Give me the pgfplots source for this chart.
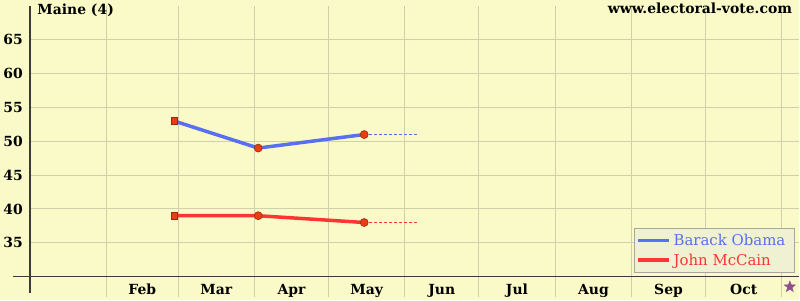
\documentclass[border=0pt]{standalone}
\usepackage{pgfplots}
\pgfplotsset{compat=1.18}
\usepackage{fontspec}
\setmainfont{DejaVu Serif}
\definecolor{bg}{RGB}{250,250,200}
\definecolor{gridc}{RGB}{208,208,172}
\definecolor{axisc}{RGB}{60,60,50}
\definecolor{obama}{RGB}{88,112,240}
\definecolor{mccain}{RGB}{255,52,52}
\definecolor{mk}{RGB}{235,60,20}
\definecolor{mkedge}{RGB}{150,45,10}
\definecolor{starc}{RGB}{140,80,140}
\definecolor{legbg}{RGB}{240,240,210}
\definecolor{legdraw}{RGB}{168,168,150}
\pgfdeclareplotmark{fivestar}{%
  \pgfpathmoveto{\pgfpointpolar{90}{\pgfplotmarksize}}%
  \pgfpathlineto{\pgfpointpolar{126}{0.42\pgfplotmarksize}}%
  \pgfpathlineto{\pgfpointpolar{162}{\pgfplotmarksize}}%
  \pgfpathlineto{\pgfpointpolar{198}{0.42\pgfplotmarksize}}%
  \pgfpathlineto{\pgfpointpolar{234}{\pgfplotmarksize}}%
  \pgfpathlineto{\pgfpointpolar{270}{0.42\pgfplotmarksize}}%
  \pgfpathlineto{\pgfpointpolar{306}{\pgfplotmarksize}}%
  \pgfpathlineto{\pgfpointpolar{342}{0.42\pgfplotmarksize}}%
  \pgfpathlineto{\pgfpointpolar{18}{\pgfplotmarksize}}%
  \pgfpathlineto{\pgfpointpolar{54}{0.42\pgfplotmarksize}}%
  \pgfpathclose
  \pgfusepathqfillstroke}
\begin{document}
\begin{tikzpicture}
\fill[bg] (0bp,0bp) rectangle (800bp,300bp);
\begin{axis}[
  at={(30bp,2.7bp)}, anchor=south west, scale only axis,
  width=770bp, height=291.3bp,
  xmin=0, xmax=312, ymin=27, ymax=70,
  axis line style={draw=none},
  clip=false,
  ytick={35,40,...,65},
  ymajorgrids,
  xtick={45.5,75.5,106,136.5,167,197.5,228.5,259,289.5},
  xticklabels={Feb,Mar,Apr,May,Jun,Jul,Aug,Sep,Oct},
  minor xtick={31,60,91,121,152,182,213,244,274,305},
  xminorgrids,
  major tick length=0pt, minor tick length=0pt,
  major grid style={gridc, line width=1bp},
  minor grid style={gridc, line width=1bp},
  tick label style={font=\fontsize{14}{16}\selectfont\bfseries},
  /pgf/number format/assume math mode=true,
  xticklabel style={anchor=base, yshift=2.5bp},
  yticklabel style={xshift=-4bp},
  legend style={at={(axis cs:310.4,30.6)}, anchor=south east,
    fill=legbg, draw=legdraw, line width=0.8bp,
    font=\fontsize{15}{17}\selectfont, inner xsep=2bp, inner ysep=3bp, row sep=2bp,
    nodes={inner sep=2.5bp}},
  legend cell align=left,
  legend image code/.code={\path (-3bp,0bp) -- (28bp,0bp);\draw[#1, line width=3.5bp] (0bp,0bp) -- (20bp,0bp);},
]
\draw[axisc, line width=1.6bp] (axis cs:0,27.6) -- (axis cs:0,70);
\draw[axisc, line width=1.6bp] (axis cs:-6.9,30) -- (axis cs:312,30);

\addplot[obama, line width=3.5bp, no marks] coordinates {(58.4,53) (92.5,49) (135.5,51)};
\addlegendentry{\textcolor{obama}{Barack Obama}\rule{5bp}{0pt}}
\addplot[mccain, line width=3.5bp, no marks] coordinates {(58.4,39) (92.5,39) (135.5,38)};
\addlegendentry{\textcolor{mccain}{John McCain}}

\addplot[obama, line width=1.2bp, dash pattern=on 3bp off 2bp, forget plot] coordinates {(135.5,51) (157,51)};
\addplot[mccain, line width=1.2bp, dash pattern=on 3bp off 2bp, forget plot] coordinates {(135.5,38) (157,38)};

\addplot[only marks, mark=square*, mark size=3.3bp, mark options={fill=mk, draw=mkedge, line width=0.6bp}, forget plot] coordinates {(58.4,53) (58.4,39)};
\addplot[only marks, mark=*, mark size=4bp, mark options={fill=mk, draw=mkedge, line width=0.6bp}, forget plot] coordinates {(92.5,49) (135.5,51) (92.5,39) (135.5,38)};

\addplot[only marks, mark=fivestar, mark size=6bp, mark options={fill=starc, draw=starc, line width=0.3bp}, forget plot] coordinates {(308.2,28.5)};
\end{axis}
\node[anchor=base west, inner sep=0pt, font=\fontsize{14}{16}\selectfont\bfseries] at (37bp,285bp) {Maine (4)};
\node[anchor=base east, inner sep=0pt, font=\fontsize{14}{16}\selectfont\bfseries] at (793bp,286bp) {www.electoral-vote.com};
\end{tikzpicture}
\end{document}
